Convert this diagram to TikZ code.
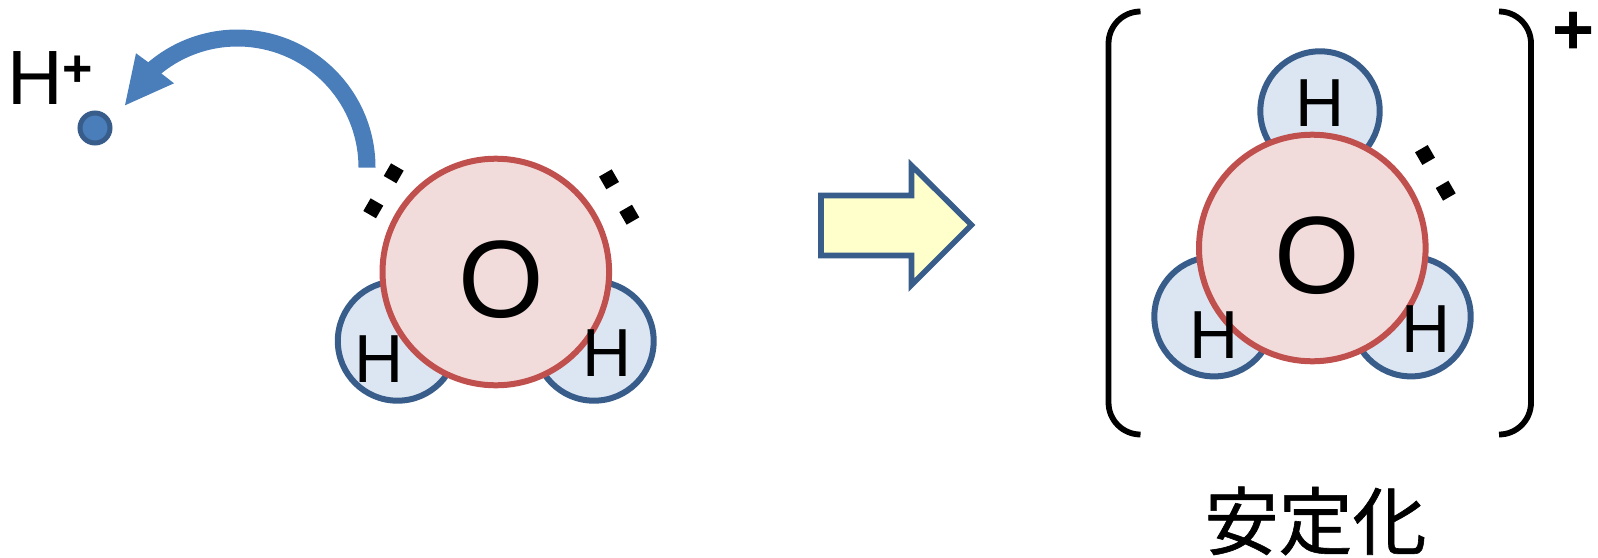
\documentclass[tikz,border=0pt]{standalone}
\usepackage{fontspec}
\setmainfont{Liberation Sans}
\newfontfamily\cjkfont[FakeBold=0.8]{Noto Sans CJK JP}
\usetikzlibrary{calc}
\definecolor{hfill}{HTML}{DCE6F2}
\definecolor{hline}{HTML}{385D8A}
\definecolor{ofill}{HTML}{F2DCDB}
\definecolor{oline}{HTML}{C0504D}
\definecolor{swoop}{HTML}{4A7EBB}
\definecolor{yel}{HTML}{FFFFCC}
\tikzset{
  hatom/.style={circle,draw=hline,fill=hfill,line width=3pt,minimum size=59.7pt,inner sep=0pt,outer sep=0pt},
  oatom/.style={circle,draw=oline,fill=ofill,line width=3pt,minimum size=113.3pt,inner sep=0pt,outer sep=0pt},
  lblO/.style={font=\fontsize{55pt}{55pt}\selectfont,inner sep=0pt},
  lblH/.style={font=\fontsize{34pt}{34pt}\selectfont,inner sep=0pt},
  lonepair/.style={rectangle,fill=black,minimum size=7.3pt,inner sep=0pt,outer sep=0pt},
  bracket/.style={draw=black,line width=2.9pt}
}
\begin{document}
\begin{tikzpicture}[x=0.5pt,y=-0.5pt]
\useasboundingbox (0,0) rectangle (1598,557);
% proton
\node[lblH,font=\fontsize{38.5pt}{38.5pt}\selectfont] (hplus) at (35.7,78.5) {H};
\node[inner sep=0pt,font=\bfseries\fontsize{26pt}{26pt}\selectfont] (hpluscharge) at (77.5,71) {+};
\node[circle,draw=hline,fill=swoop,line width=2.5pt,minimum size=15pt,inner sep=0pt,outer sep=0pt] (proton) at (95,128) {};
% curved arrow
\coordinate (c) at (237.5,167.5);
\fill[swoop] ($(c)+(0:69pt)$) arc[start angle=0,end angle=130.3,radius=69pt]
  -- (136,53.3) -- (125,105.3) -- (174,83.3) -- ($(c)+(129:60.5pt)$)
  arc[start angle=129,end angle=0,radius=60.5pt] -- cycle;
% left molecule
\node[hatom] (hl) at (397.5,341) {};
\node[hatom] (hr) at (594,341) {};
\node[oatom] (ol) at (495.8,272) {};
\node[lblO] (ollbl) at (500.8,279.5) {O};
\node[lblH] (hllbl) at (379.2,359.3) {H};
\node[lblH] (hrlbl) at (606.7,353) {H};
\node[lonepair,rotate=-30] (d1) at (393.7,173.3) {};
\node[lonepair,rotate=-30] (d2) at (373.3,208.3) {};
\node[lonepair,rotate=30] (d3) at (609,179.3) {};
\node[lonepair,rotate=30] (d4) at (629.3,214.7) {};
% block arrow
\draw[draw=hline,fill=yel,line width=2.8pt,miter limit=10]
  (821,195.5) -- (911.5,195.5) -- (911.5,165.5) -- (971.5,225) -- (911.5,285)
  -- (911.5,255.5) -- (821,255.5) -- cycle;
% right molecule
\node[hatom] (ht) at (1320,111) {};
\node[hatom] (hbl) at (1214,316.7) {};
\node[hatom] (hbr) at (1411,316.7) {};
\node[oatom] (or) at (1312.3,248) {};
\node[lblO] (orlbl) at (1317.2,255.3) {O};
\node[lblH] (htlbl) at (1320,102.7) {H};
\node[lblH] (hbllbl) at (1214.2,335) {H};
\node[lblH] (hbrlbl) at (1426.5,329) {H};
\node[lonepair,rotate=30] (d5) at (1425,155) {};
\node[lonepair,rotate=30] (d6) at (1445.7,190.7) {};
% brackets
\draw[bracket] (1140.5,11.5) arc[start angle=90,end angle=180,radius=16pt] -- (1108.5,402.5) arc[start angle=180,end angle=270,radius=16pt];
\draw[bracket] (1499,11.5) arc[start angle=90,end angle=0,radius=16pt] -- (1531,402.5) arc[start angle=0,end angle=-90,radius=16pt];
\node[inner sep=0pt,font=\bfseries\fontsize{36pt}{36pt}\selectfont] (charge) at (1573,33) {+};
\node[inner sep=0pt,font=\cjkfont\fontsize{37pt}{37pt}\selectfont] (stab) at (1315.5,521) {安定化};
\end{tikzpicture}
\end{document}
